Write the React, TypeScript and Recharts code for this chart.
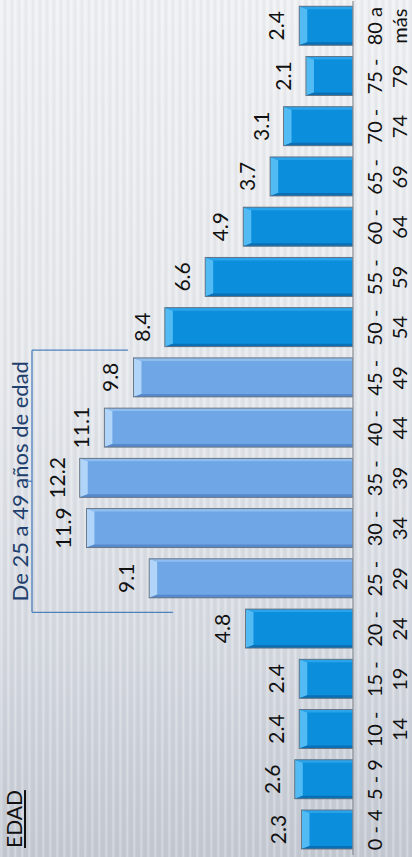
import React from "react";
import { BarChart, Bar, XAxis, YAxis, Cell, LabelList, ReferenceLine } from "recharts";

const ageLine1 = ["0 - 4", "5 - 9", "10 -", "15 -", "20 -", "25 -", "30 -", "35 -", "40 -", "45 -", "50 -", "55 -", "60 -", "65 -", "70 -", "75 -", "80 a"];
const ageLine2 = ["", "", "14", "19", "24", "29", "34", "39", "44", "49", "54", "59", "64", "69", "74", "79", "más"];
const percentValues = [2.3, 2.6, 2.4, 2.4, 4.8, 9.1, 11.9, 12.2, 11.1, 9.8, 8.4, 6.6, 4.9, 3.7, 3.1, 2.1, 2.4];
const highlightedGroup = [false, false, false, false, false, true, true, true, true, true, false, false, false, false, false, false, false];

const bracketTitle = "De 25 a 49 años de edad";
const bracketStart = 4.83;
const bracketEnd = 10.05;
const bracketMid = 7.44;
const bracketTop = 14.33;
const bracketLeftBottom = 8.04;
const bracketRightBottom = 10.04;
const bracketStubTop = 14.6;

const data = percentValues.map((v, i) => ({
  age: ageLine1[i] + "|" + ageLine2[i],
  idx: i + 0.5,
  v,
}));

const FONT = "Lato, 'Open Sans', sans-serif";

const DARK = { base: "#0b8fdc", top: "#52bbf4", right: "#2ba3ea", left: "#0a6fb4" };
const LIGHT = { base: "#6fa6e6", top: "#b0d5f8", right: "#8fbdf0", left: "#5689cc" };

const BevelBar = (props: any) => {
  const { x, y, width, height, index } = props;
  if (!width || !height) return null;
  const c = highlightedGroup[index] ? LIGHT : DARK;
  const b = 8;
  const s = 3;
  return (
    <g>
      <rect x={x} y={y} width={width} height={height} fill={c.base} />
      <polygon
        points={`${x},${y} ${x + width},${y} ${x + width - s},${y + b} ${x + s},${y + b}`}
        fill={c.top}
      />
      <polygon
        points={`${x},${y} ${x + s},${y + b} ${x + s},${y + height} ${x},${y + height}`}
        fill={c.left}
      />
      <polygon
        points={`${x + width},${y} ${x + width - s},${y + b} ${x + width - s},${y + height} ${x + width},${y + height}`}
        fill={c.right}
      />
      <rect x={x} y={y} width={width} height={height} fill="none" stroke="#66717e" strokeWidth={0.9} />
    </g>
  );
};

const AgeTick = (props: any) => {
  const { x, y, payload } = props;
  const [l1, l2] = String(payload.value).split("|");
  return (
    <g>
      <text x={x} y={y} dy={29} textAnchor="middle" fontFamily={FONT} fontSize={20} fill="#111">
        {l1}
      </text>
      {l2 ? (
        <text x={x} y={y} dy={54} textAnchor="middle" fontFamily={FONT} fontSize={20} fill="#111">
          {l2}
        </text>
      ) : null}
    </g>
  );
};

const lineColor = "#4f81bd";

export default function App() {
  return (
    <div style={{ position: "absolute", left: 0, top: 0, width: 412, height: 857, overflow: "hidden" }}>
      <div
        style={{
          position: "absolute",
          left: 0,
          top: 0,
          width: 857,
          height: 412,
          transformOrigin: "0 0",
          transform: "translate(0px, 857px) rotate(-90deg)",
          background:
            "repeating-linear-gradient(to bottom, rgba(255,255,255,0.0) 0px, rgba(255,255,255,0.35) 1px, rgba(255,255,255,0) 3px, rgba(170,176,186,0.14) 5px, rgba(255,255,255,0) 7px), linear-gradient(to right, #c3c8d1 0%, #d5d9e0 25%, #e4e7eb 55%, #eff0f2 100%)",
        }}
      >
        <div
          style={{
            position: "absolute",
            left: 9,
            top: 2,
            fontFamily: FONT,
            fontSize: 21,
            color: "#111",
            textDecoration: "underline",
            lineHeight: "24px",
          }}
        >
          EDAD
        </div>
        <BarChart
          width={857}
          height={412}
          data={data}
          margin={{ top: 17, right: 1, bottom: 0, left: 2 }}
          barSize={39}
          style={{ position: "absolute", left: 0, top: 0 }}
        >
          <XAxis
            dataKey="age"
            interval={0}
            tickLine={false}
            tickSize={0}
            tickMargin={0}
            height={59}
            axisLine={{ stroke: "#8a8f96", strokeWidth: 1.2 }}
            tick={<AgeTick />}
          />
          <XAxis xAxisId="n" dataKey="idx" type="number" domain={[0, 17]} allowDataOverflow hide />
          <YAxis domain={[0, 15]} hide allowDataOverflow />
          <Bar dataKey="v" isAnimationActive={false} shape={<BevelBar />}>
            {data.map((d, i) => (
              <Cell key={i} fill={highlightedGroup[i] ? LIGHT.base : DARK.base} />
            ))}
            <LabelList
              dataKey="v"
              position="top"
              offset={15}
              fontFamily={FONT}
              fontSize={21}
              fill="#111"
              formatter={(v: any) => Number(v).toFixed(1)}
            />
          </Bar>
          <ReferenceLine
            xAxisId="n"
            ifOverflow="visible"
            stroke={lineColor}
            strokeWidth={1.3}
            segment={[
              { x: bracketStart, y: bracketTop },
              { x: bracketEnd, y: bracketTop },
            ]}
            label={{
              value: bracketTitle,
              position: "top",
              offset: 4,
              fill: "#1f3f6e",
              fontSize: 22,
              fontFamily: FONT,
            }}
          />
          <ReferenceLine
            xAxisId="n"
            ifOverflow="visible"
            stroke={lineColor}
            strokeWidth={1.3}
            segment={[
              { x: bracketStart, y: bracketTop },
              { x: bracketStart, y: bracketLeftBottom },
            ]}
          />
          <ReferenceLine
            xAxisId="n"
            ifOverflow="visible"
            stroke={lineColor}
            strokeWidth={1.3}
            segment={[
              { x: bracketEnd, y: bracketTop },
              { x: bracketEnd, y: bracketRightBottom },
            ]}
          />
          <ReferenceLine
            xAxisId="n"
            ifOverflow="visible"
            stroke={lineColor}
            strokeWidth={1.3}
            segment={[
              { x: bracketMid, y: bracketTop },
              { x: bracketMid, y: bracketStubTop },
            ]}
          />
        </BarChart>
      </div>
    </div>
  );
}
